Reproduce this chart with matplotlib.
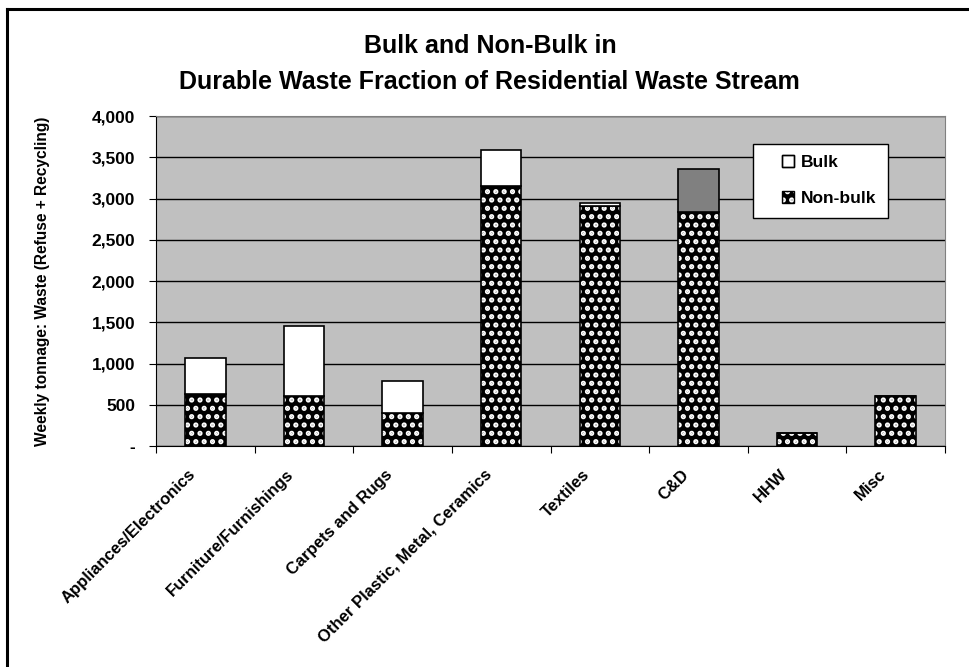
import matplotlib
matplotlib.use("Agg")
import matplotlib.pyplot as plt
from matplotlib.patches import Patch, Rectangle
from matplotlib.lines import Line2D
from matplotlib.legend_handler import HandlerPatch
from matplotlib.transforms import ScaledTranslation
from matplotlib.ticker import FuncFormatter, MultipleLocator
import numpy as np

categories = ["Appliances/Electronics", "Furniture/Furnishings", "Carpets and Rugs",
              "Other Plastic, Metal, Ceramics", "Textiles", "C&D", "HHW", "Misc"]
non_bulk = [630, 610, 396, 3152, 2909, 2840, 157, 606]
bulk = [433, 848, 392, 440, 33, 514, 0, 0]
bulk_colors = ["white", "white", "white", "white", "white", "#808080", "white", "white"]

plt.rcParams['font.family'] = ['Liberation Sans', 'DejaVu Sans']
plt.rcParams['hatch.linewidth'] = 2.5

fig = plt.figure(figsize=(9.7, 6.67), dpi=100)
W, H = 970, 667
ax = fig.add_axes([156 / W, 1 - 446 / H, 789 / W, 330 / H])
ax.set_facecolor("#C0C0C0")

x = np.arange(len(categories))
bw = 0.41

ax.set_ylim(0, 4000)
ax.set_xlim(-0.5, len(categories) - 0.5)
ax.yaxis.set_major_locator(MultipleLocator(500))
ax.grid(axis='y', color='black', linewidth=1.0)
ax.set_axisbelow(True)

# non-bulk patterned bars
ax.bar(x, non_bulk, bw, color='black', edgecolor='white', hatch='..', linewidth=0, zorder=2)
ax.bar(x, non_bulk, bw, fill=False, edgecolor='black', linewidth=1.2, zorder=3)
# bulk
ax.bar(x, bulk, bw, bottom=non_bulk, color=bulk_colors, edgecolor='black', linewidth=1.2, zorder=3)

for s in ['top', 'right']:
    ax.spines[s].set_color('#808080')
for s in ['left', 'bottom']:
    ax.spines[s].set_color('black')

ax.yaxis.set_major_formatter(FuncFormatter(lambda v, p: '-' if v == 0 else f"{int(v):,}"))
ax.tick_params(axis='y', direction='out', length=5, labelsize=12.5, pad=10)
for lab in ax.get_yticklabels():
    lab.set_fontweight('bold')

ax.set_xticks(list(x - 0.5) + [len(categories) - 0.5])
ax.set_xticklabels([])
ax.set_xticks(x, minor=True)
ax.set_xticklabels(categories, minor=True, rotation=45, ha='right', va='top',
                   fontsize=12, fontweight='bold')
ax.tick_params(axis='x', which='major', direction='out', length=5)
ax.tick_params(axis='x', which='minor', length=0, pad=15)
off = ScaledTranslation(-7 / 100, 0, fig.dpi_scale_trans)
for lab in ax.get_xticklabels(minor=True):
    lab.set_transform(lab.get_transform() + off)

ax.set_ylabel("Weekly tonnage: Waste (Refuse + Recycling)", fontsize=11.2, fontweight='bold', labelpad=30)

fig.text(0.505, 1 - 46 / H, "Bulk and Non-Bulk in", ha='center', va='center', fontsize=18, fontweight='bold')
fig.text(0.505, 1 - 82 / H, "Durable Waste Fraction of Residential Waste Stream", ha='center', va='center',
         fontsize=18, fontweight='bold')


class OutlinedHandler(HandlerPatch):
    def create_artists(self, legend, orig_handle, xdescent, ydescent, width, height, fontsize, trans):
        arts = super().create_artists(legend, orig_handle, xdescent, ydescent, width, height, fontsize, trans)
        p = arts[0]
        outline = Rectangle(p.get_xy(), p.get_width(), p.get_height(), fill=False,
                            edgecolor='black', linewidth=1.0, transform=trans)
        return [p, outline]


handles = [Patch(facecolor='white', edgecolor='black', linewidth=1),
           Patch(facecolor='black', edgecolor='white', hatch='..', linewidth=0)]
hp = OutlinedHandler(xpad=1.0)
leg = ax.legend(handles, ["Bulk", "Non-bulk"], loc='upper left', bbox_to_anchor=(0.757, 0.915),
                borderaxespad=0, frameon=True, fancybox=False, shadow=False, framealpha=1,
                edgecolor='black', prop={'weight': 'bold', 'size': 12.5}, handlelength=1.7,
                handleheight=0.7, handletextpad=0.4, labelspacing=1.2, borderpad=0.65,
                handler_map={Patch: hp})
leg.get_frame().set_linewidth(1.0)

fig.add_artist(Line2D([7 / W, 1.0], [1 - 8.5 / H, 1 - 8.5 / H], transform=fig.transFigure, color='black', linewidth=2.2))
fig.add_artist(Line2D([7 / W, 7 / W], [0, 1 - 8.5 / H], transform=fig.transFigure, color='black', linewidth=2.2))

fig.savefig("out.png", dpi=100, facecolor='white')
